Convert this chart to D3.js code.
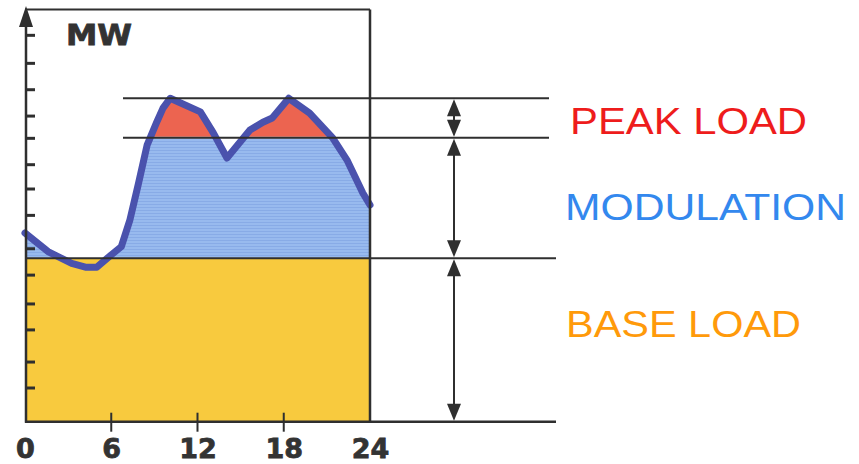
<!DOCTYPE html>
<html><head><meta charset="utf-8">
<script src="https://cdn.jsdelivr.net/npm/d3@7"></script>
<style>html,body{margin:0;padding:0;background:#fff;}svg{display:block;}</style>
</head><body>
<svg id="c" width="859" height="464"></svg>
<script>
// ---- data ----
const hours = [0, 1.6, 3.25, 4.2, 5.0, 6.0, 6.7, 7.3, 7.9, 8.5, 9.2, 9.6, 10.1, 12.2, 13.1, 14.05, 15.65, 16.55, 17.2, 18.35, 19.8, 21.4, 22.4, 23.5, 24];
const load  = [45.8, 41.3, 38.4, 37.5, 37.5, 40.5, 42.5, 49.0, 57.9, 67.2, 73.0, 76.1, 78.5, 75.2, 70.1, 64.0, 70.8, 72.7, 73.7, 78.5, 74.9, 68.9, 63.5, 55.5, 52.6];
const levelNames = ["base", "modulation", "peak"];
const levelValues = [39.7, 68.9, 78.5];
const xTickValues = [0, 6, 12, 18, 24];
const xTickLabels = ["0", "6", "12", "18", "24"];
const yTickValues = [8.3, 14.6, 22.4, 28.7, 35.7, 42.1, 50.2, 56.6, 62.5, 68.9, 74.3, 80.7, 87.1, 93.9];
const unitLabel = "MW";
const bandLabels = ["PEAK LOAD", "MODULATION", "BASE LOAD"];

// ---- layout ----
const svg = d3.select("#c");
const x = d3.scaleLinear().domain([0, 24]).range([25, 370]);
const y = d3.scaleLinear().domain([0, 100]).range([421.7, 9.7]);
const base = levelValues[0], mod = levelValues[1], peak = levelValues[2];
const pts = hours.map((h, i) => [h, load[i]]);
const dark = "#2f2f2f";

const defs = svg.append("defs");
defs.append("clipPath").attr("id", "clipMod").append("rect")
  .attr("x", x(0)).attr("width", x(24) - x(0))
  .attr("y", y(mod) + 0.5).attr("height", y(base) - y(mod) - 1);
defs.append("clipPath").attr("id", "clipPeak").append("rect")
  .attr("x", x(0)).attr("width", x(24) - x(0))
  .attr("y", y(peak) - 10).attr("height", y(mod) - y(peak) + 9);
const pat = defs.append("pattern").attr("id", "blueTex").attr("patternUnits", "userSpaceOnUse")
  .attr("width", 3).attr("height", 3);
pat.append("rect").attr("width", 3).attr("height", 3).attr("fill", "#98baee");
pat.append("rect").attr("width", 3).attr("height", 1).attr("fill", "#88abe6");

// base load fill
svg.append("rect").attr("x", x(0)).attr("y", y(base))
  .attr("width", x(24) - x(0)).attr("height", y(0) - y(base))
  .attr("fill", "#f8ca3e");

const area = d3.area().x(d => x(d[0])).y0(y(base)).y1(d => y(d[1]));
svg.append("path").datum(pts).attr("d", area)
  .attr("fill", "url(#blueTex)").attr("clip-path", "url(#clipMod)");
const areaPeak = d3.area().x(d => x(d[0])).y0(y(mod)).y1(d => y(d[1]));
svg.append("path").datum(pts).attr("d", areaPeak)
  .attr("fill", "#ec6450").attr("clip-path", "url(#clipPeak)");

// load curve
svg.append("path").datum(pts)
  .attr("d", d3.line().x(d => x(d[0])).y(d => y(d[1])))
  .attr("fill", "none").attr("stroke", "#4a52ad").attr("stroke-width", 7)
  .attr("stroke-linejoin", "round").attr("stroke-linecap", "round");

// level lines
svg.append("line").attr("x1", 123).attr("x2", 549).attr("y1", y(peak)).attr("y2", y(peak))
  .attr("stroke", dark).attr("stroke-width", 2);
svg.append("line").attr("x1", 123).attr("x2", 549).attr("y1", y(mod)).attr("y2", y(mod))
  .attr("stroke", dark).attr("stroke-width", 2);
svg.append("line").attr("x1", x(0)).attr("x2", 556).attr("y1", y(base)).attr("y2", y(base))
  .attr("stroke", dark).attr("stroke-width", 2);

// frame
svg.append("line").attr("x1", x(0)).attr("x2", 556).attr("y1", y(0)).attr("y2", y(0))
  .attr("stroke", dark).attr("stroke-width", 2.5);
svg.append("line").attr("x1", x(0)).attr("x2", x(24)).attr("y1", 9.5).attr("y2", 9.5)
  .attr("stroke", dark).attr("stroke-width", 2);
svg.append("line").attr("x1", x(24)).attr("x2", x(24)).attr("y1", 9.5).attr("y2", y(0))
  .attr("stroke", dark).attr("stroke-width", 2.5);

// y axis with ticks
const yAxis = d3.axisRight(y).tickValues(yTickValues).tickSize(9).tickFormat("");
const yg = svg.append("g").attr("transform", `translate(${x(0) + 1},0)`).call(yAxis);
yg.select(".domain").remove();
yg.selectAll(".tick line").attr("stroke", dark).attr("stroke-width", 3);
svg.append("line").attr("x1", x(0) + 1).attr("x2", x(0) + 1).attr("y1", 12).attr("y2", y(0) + 1)
  .attr("stroke", dark).attr("stroke-width", 2.5);
svg.append("path").attr("d", `M${x(0) + 1},6 L${x(0) + 8},27 L${x(0) - 6},27 Z`).attr("fill", dark);

svg.append("text").attr("x", 66).attr("y", 45).text(unitLabel)
  .attr("font-family", "DejaVu Sans").attr("font-weight", "bold").attr("font-size", 28)
  .attr("textLength", 66).attr("lengthAdjust", "spacingAndGlyphs").attr("fill", "#333")
  .attr("stroke", "#333").attr("stroke-width", 0.8);

// x axis
const xAxis = d3.axisBottom(x).tickValues(xTickValues).tickSize(0).tickPadding(0)
  .tickFormat((d, i) => xTickLabels[i]);
const xg = svg.append("g").attr("transform", `translate(0,${y(0)})`).call(xAxis);
xg.select(".domain").remove();
xg.selectAll(".tick text").attr("y", 36.5).attr("dy", 0)
  .attr("font-family", "DejaVu Sans").attr("font-weight", "bold").attr("font-size", 27)
  .attr("fill", "#333").attr("stroke", "#333").attr("stroke-width", 0.8);
xTickValues.filter(v => v > 0 && v < 24).forEach(v => {
  svg.append("line").attr("x1", x(v)).attr("x2", x(v)).attr("y1", y(0) - 9).attr("y2", y(0) + 10)
    .attr("stroke", dark).attr("stroke-width", 2);
});

// double arrows
const ax = 454;
function tri(tipY, dir) { // dir: -1 points up, +1 points down
  const h = 17, w = 7;
  const by = tipY - dir * h;
  svg.append("path").attr("d", `M${ax},${tipY} L${ax + w},${by} L${ax - w},${by} Z`).attr("fill", dark);
}
const bands = [[peak, mod], [mod, base], [base, 0]];
bands.forEach(([top, bot]) => {
  svg.append("line").attr("x1", ax).attr("x2", ax).attr("y1", y(top) + 4).attr("y2", y(bot) - 4)
    .attr("stroke", dark).attr("stroke-width", 2);
  tri(y(top) + 1, -1);
  tri(y(bot) - 1, 1);
});

// band labels
const labelCfg = [
  {x: 570, y: 134, w: 237, color: "#ee1c1c"},
  {x: 565, y: 219.5, w: 281, color: "#3388ee"},
  {x: 566, y: 336.5, w: 235, color: "#ff9a0a"}
];
bandLabels.forEach((t, i) => {
  const c = labelCfg[i];
  svg.append("text").attr("x", c.x).attr("y", c.y).text(t)
    .attr("font-family", "Liberation Sans, Arial, sans-serif").attr("font-size", 37)
    .attr("textLength", c.w).attr("lengthAdjust", "spacingAndGlyphs").attr("fill", c.color);
});
</script>
</body></html>
